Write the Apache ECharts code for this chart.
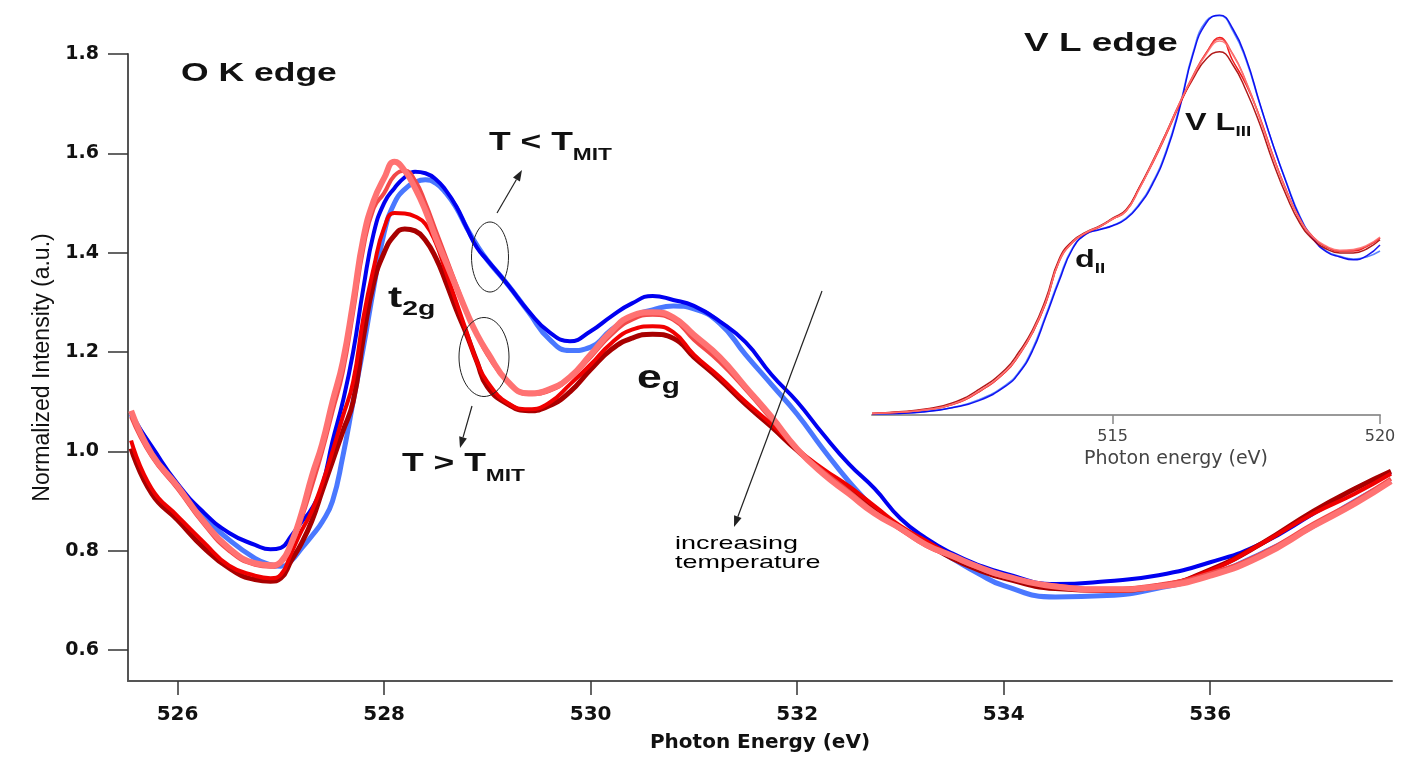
<!DOCTYPE html>
<html>
<head>
<meta charset="utf-8">
<title>O K edge / V L edge</title>
<script src="https://cdn.jsdelivr.net/npm/echarts@6/dist/echarts.min.js"></script>
<style>
  html, body { margin: 0; padding: 0; background: #fff; }
  #chart { width: 1403px; height: 758px; }
</style>
</head>
<body>
<div id="chart"></div>
<script>
// O K edge spectra (main panel)
const OK_ENERGY = [525.55, 525.75, 526.0, 526.25, 526.5, 526.75, 526.9, 527.0, 527.1, 527.2, 527.3, 527.4, 527.5, 527.6, 527.7, 527.8, 527.9, 528.0, 528.1, 528.2, 528.3, 528.4, 528.5, 528.6, 528.7, 528.8, 528.9, 529.0, 529.2, 529.4, 529.6, 529.8, 530.0, 530.2, 530.4, 530.6, 530.8, 531.0, 531.25, 531.5, 531.75, 532.0, 532.25, 532.5, 532.75, 533.0, 533.25, 533.5, 533.75, 534.0, 534.5, 535.0, 535.5, 536.0, 536.5, 537.0, 537.4, 537.75];
const OK_BLUE = [1.072, 1.01, 0.935, 0.878, 0.836, 0.812, 0.803, 0.806, 0.83, 0.858, 0.885, 0.93, 1.02, 1.10, 1.20, 1.33, 1.44, 1.50, 1.53, 1.552, 1.563, 1.56, 1.548, 1.525, 1.493, 1.45, 1.41, 1.385, 1.335, 1.282, 1.240, 1.222, 1.242, 1.272, 1.298, 1.313, 1.305, 1.293, 1.262, 1.22, 1.155, 1.10, 1.035, 0.975, 0.925, 0.865, 0.825, 0.795, 0.772, 0.755, 0.733, 0.739, 0.751, 0.777, 0.815, 0.875, 0.925, 0.958];
const OK_LIGHTBLUE = [1.076, 1.005, 0.93, 0.87, 0.822, 0.785, 0.772, 0.769, 0.78, 0.805, 0.83, 0.858, 0.9, 0.99, 1.10, 1.21, 1.33, 1.44, 1.50, 1.528, 1.542, 1.547, 1.540, 1.52, 1.49, 1.45, 1.415, 1.385, 1.335, 1.28, 1.226, 1.203, 1.21, 1.245, 1.272, 1.285, 1.293, 1.287, 1.258, 1.195, 1.135, 1.075, 1.005, 0.94, 0.885, 0.845, 0.815, 0.785, 0.755, 0.73, 0.707, 0.71, 0.725, 0.752, 0.795, 0.85, 0.90, 0.94];
const OK_SALMON = [1.082, 0.995, 0.93, 0.86, 0.805, 0.775, 0.771, 0.778, 0.815, 0.875, 0.95, 1.015, 1.10, 1.18, 1.30, 1.43, 1.505, 1.55, 1.583, 1.565, 1.53, 1.485, 1.43, 1.38, 1.33, 1.28, 1.235, 1.20, 1.14, 1.117, 1.125, 1.15, 1.195, 1.242, 1.273, 1.28, 1.27, 1.235, 1.19, 1.13, 1.07, 1.005, 0.955, 0.915, 0.875, 0.845, 0.812, 0.79, 0.768, 0.75, 0.728, 0.722, 0.728, 0.75, 0.79, 0.85, 0.895, 0.94];
const OK_PINK = [1.07, 0.99, 0.925, 0.855, 0.80, 0.772, 0.768, 0.775, 0.81, 0.865, 0.93, 1.0, 1.08, 1.16, 1.28, 1.41, 1.49, 1.52, 1.555, 1.565, 1.545, 1.50, 1.445, 1.39, 1.335, 1.28, 1.235, 1.195, 1.14, 1.115, 1.122, 1.148, 1.19, 1.235, 1.265, 1.275, 1.265, 1.225, 1.18, 1.125, 1.065, 1.005, 0.96, 0.92, 0.878, 0.843, 0.81, 0.788, 0.766, 0.748, 0.73, 0.724, 0.732, 0.755, 0.795, 0.855, 0.90, 0.945];
const OK_RED = [1.022, 0.925, 0.87, 0.818, 0.77, 0.75, 0.745, 0.752, 0.795, 0.84, 0.88, 0.935, 1.00, 1.07, 1.14, 1.27, 1.37, 1.45, 1.48, 1.479, 1.473, 1.458, 1.42, 1.36, 1.30, 1.24, 1.18, 1.14, 1.097, 1.085, 1.098, 1.135, 1.175, 1.218, 1.245, 1.252, 1.24, 1.195, 1.15, 1.10, 1.055, 1.005, 0.965, 0.93, 0.89, 0.85, 0.82, 0.79, 0.768, 0.75, 0.728, 0.72, 0.73, 0.76, 0.815, 0.875, 0.915, 0.955];
const OK_DARKRED = [1.006, 0.915, 0.862, 0.807, 0.765, 0.742, 0.739, 0.745, 0.78, 0.815, 0.86, 0.92, 0.98, 1.04, 1.10, 1.23, 1.34, 1.40, 1.435, 1.448, 1.444, 1.425, 1.39, 1.34, 1.285, 1.235, 1.18, 1.13, 1.095, 1.082, 1.092, 1.12, 1.165, 1.205, 1.228, 1.236, 1.228, 1.19, 1.145, 1.095, 1.05, 1.002, 0.96, 0.925, 0.885, 0.845, 0.815, 0.785, 0.762, 0.745, 0.724, 0.72, 0.728, 0.762, 0.815, 0.88, 0.925, 0.96];

// V L edge spectra (inset), arbitrary units
const VL_ENERGY = [510.5, 511.0, 511.5, 512.0, 512.5, 513.0, 513.25, 513.5, 513.75, 514.0, 514.25, 514.5, 514.75, 515.0, 515.25, 515.5, 515.75, 516.0, 516.25, 516.5, 516.75, 517.0, 517.25, 517.5, 517.75, 518.0, 518.25, 518.5, 518.75, 519.0, 519.25, 519.5, 519.75, 520.0];
const VL_BLUE = [0.003, 0.004, 0.008, 0.018, 0.036, 0.072, 0.105, 0.16, 0.245, 0.335, 0.415, 0.452, 0.463, 0.473, 0.49, 0.525, 0.578, 0.655, 0.765, 0.90, 0.98, 1.0, 0.965, 0.89, 0.78, 0.675, 0.58, 0.495, 0.44, 0.408, 0.395, 0.388, 0.398, 0.425];
const VL_LIGHTBLUE = [0.003, 0.004, 0.009, 0.019, 0.038, 0.075, 0.108, 0.165, 0.25, 0.34, 0.418, 0.452, 0.464, 0.474, 0.492, 0.528, 0.582, 0.66, 0.77, 0.905, 0.985, 0.998, 0.96, 0.885, 0.778, 0.675, 0.582, 0.498, 0.442, 0.41, 0.397, 0.39, 0.395, 0.41];
const VL_SALMON = [0.004, 0.007, 0.013, 0.027, 0.06, 0.11, 0.152, 0.207, 0.283, 0.385, 0.432, 0.456, 0.471, 0.49, 0.51, 0.566, 0.632, 0.702, 0.778, 0.845, 0.902, 0.935, 0.9, 0.83, 0.742, 0.645, 0.56, 0.49, 0.445, 0.422, 0.412, 0.414, 0.424, 0.445];
const VL_PINK = [0.004, 0.007, 0.013, 0.026, 0.058, 0.108, 0.15, 0.205, 0.28, 0.383, 0.431, 0.455, 0.47, 0.49, 0.51, 0.566, 0.634, 0.705, 0.78, 0.848, 0.905, 0.94, 0.902, 0.832, 0.744, 0.646, 0.562, 0.488, 0.443, 0.42, 0.41, 0.412, 0.422, 0.443];
const VL_RED = [0.004, 0.007, 0.013, 0.026, 0.058, 0.108, 0.15, 0.205, 0.28, 0.385, 0.432, 0.455, 0.47, 0.49, 0.51, 0.568, 0.63, 0.70, 0.775, 0.845, 0.905, 0.944, 0.885, 0.825, 0.745, 0.648, 0.56, 0.49, 0.445, 0.42, 0.41, 0.41, 0.421, 0.442];
const VL_DARKRED = [0.004, 0.008, 0.015, 0.03, 0.064, 0.115, 0.158, 0.212, 0.29, 0.39, 0.435, 0.457, 0.472, 0.492, 0.513, 0.57, 0.635, 0.705, 0.778, 0.84, 0.89, 0.908, 0.875, 0.81, 0.728, 0.632, 0.548, 0.48, 0.438, 0.415, 0.405, 0.405, 0.415, 0.438];

// tick labels
const Y_TICKS = [0.6, 0.8, 1.0, 1.2, 1.4, 1.6, 1.8];
const X_TICKS = [526, 528, 530, 532, 534, 536];
const VL_TICKS = [515, 520];

const chart = echarts.init(document.getElementById('chart'));

function pairs(xs, ys) {
    return xs.map((x, i) => [x, ys[i]]);
}

// main series, drawn back to front
const okSeries = [
    { data: OK_LIGHTBLUE, color: '#4a78ff', width: 5 },
    { data: OK_BLUE, color: '#0000f0', width: 4 },
    { data: OK_DARKRED, color: '#a80000', width: 5 },
    { data: OK_RED, color: '#f00000', width: 4 },
    { data: OK_PINK, color: '#f24848', width: 4 },
    { data: OK_SALMON, color: '#ff7272', width: 6 }
];
const vlSeries = [
    { data: VL_LIGHTBLUE, color: '#4a78ff' },
    { data: VL_BLUE, color: '#0000f0' },
    { data: VL_DARKRED, color: '#a80000' },
    { data: VL_RED, color: '#f00000' },
    { data: VL_PINK, color: '#f24848' },
    { data: VL_SALMON, color: '#ff7272' }
];

const series = [];
okSeries.forEach(s => {
    series.push({
        type: 'line', xAxisIndex: 0, yAxisIndex: 0,
        data: pairs(OK_ENERGY, s.data),
        showSymbol: false, smooth: 0.5,
        lineStyle: { color: s.color, width: s.width },
        silent: true
    });
});
vlSeries.forEach(s => {
    series.push({
        type: 'line', xAxisIndex: 1, yAxisIndex: 1,
        data: pairs(VL_ENERGY, s.data),
        showSymbol: false, smooth: 0.5,
        lineStyle: { color: s.color, width: 1.5, opacity: 0.9 },
        silent: true
    });
});

// arrow = line + filled head
function arrow(x1, y1, x2, y2) {
    const a = Math.atan2(y2 - y1, x2 - x1);
    const len = 11, half = 4;
    const bx = x2 - len * Math.cos(a), by = y2 - len * Math.sin(a);
    const px = -Math.sin(a) * half, py = Math.cos(a) * half;
    return [
        { type: 'line', z: 100, shape: { x1: x1, y1: y1, x2: bx, y2: by }, style: { stroke: '#222', lineWidth: 1.2 } },
        { type: 'polygon', z: 100, shape: { points: [[x2, y2], [bx + px, by + py], [bx - px, by - py]] }, style: { fill: '#222' } }
    ];
}

const SX = 1.42;   // the figure is stretched horizontally
const FONT = 'Liberation Sans, Arial, sans-serif';
function label(x, y, text, size, rich, scale) {
    return {
        type: 'text', z: 100, x: x, y: y, scaleX: scale || SX,
        style: {
            text: text, fontFamily: FONT, fontSize: size, fontWeight: 'bold',
            fill: '#111', align: 'left', verticalAlign: 'top', rich: rich
        }
    };
}
function sub(main, small, pad) {
    return {
        m: { fontFamily: FONT, fontSize: main, fontWeight: 'bold', lineHeight: main + 4, verticalAlign: 'top', fill: '#111' },
        s: { fontFamily: FONT, fontSize: small, fontWeight: 'bold', lineHeight: small, verticalAlign: 'top', padding: [pad, 0, 0, 0], fill: '#111' }
    };
}

const graphic = [
    label(181, 62, 'O K edge', 25),
    label(1024, 31, 'V L edge', 26),
    label(489, 131, '{m|T < T}{s|MIT}', 25, sub(25, 16, 17)),
    label(402, 452, '{m|T > T}{s|MIT}', 25, sub(25, 16, 17)),
    label(388, 284, '{m|t}{s|2g}', 30, sub(30, 20, 15)),
    label(637, 362, '{m|e}{s|g}', 33, sub(33, 22, 14), 1.35),
    label(1185, 111, '{m|V L}{s|III}', 24, sub(24, 14, 14), 1.35),
    label(1075, 248, '{m|d}{s|II}', 24, sub(24, 14, 14), 1.35),
    {
        type: 'text', z: 100, x: 675, y: 534, scaleX: SX,
        style: {
            text: 'increasing\ntemperature', fontFamily: FONT, fontSize: 19,
            lineHeight: 19, fill: '#000', align: 'left', verticalAlign: 'top'
        }
    },
    { type: 'ellipse', z: 100, shape: { cx: 490, cy: 257, rx: 18.5, ry: 35 }, style: { fill: 'none', stroke: '#222', lineWidth: 1 } },
    { type: 'ellipse', z: 100, shape: { cx: 484, cy: 357, rx: 25, ry: 39.5 }, style: { fill: 'none', stroke: '#222', lineWidth: 1 } }
].concat(arrow(497, 213, 522, 170), arrow(472, 406, 460, 448), arrow(822, 291, 734, 527));

const option = {
    animation: false,
    backgroundColor: '#fff',
    grid: [
        { left: 128, right: 11, top: 54, bottom: 75 },
        { left: 872, right: 23, top: 15, bottom: 343 }
    ],
    xAxis: [
        {
            type: 'value', gridIndex: 0, min: 525.52, max: 537.76,
            name: 'Photon Energy (eV)', nameLocation: 'middle', nameGap: 52,
            nameTextStyle: { fontFamily: 'DejaVu Sans', fontWeight: 'bold', fontSize: 20, color: '#111' },
            axisLine: { lineStyle: { color: '#555', width: 2 } },
            axisTick: { customValues: X_TICKS, length: 14, lineStyle: { color: '#333', width: 1.5 } },
            axisLabel: { customValues: X_TICKS, margin: 24, fontFamily: 'DejaVu Sans', fontWeight: 'bold', fontSize: 20, color: '#111' },
            splitLine: { show: false }
        },
        {
            type: 'value', gridIndex: 1, min: 510.5, max: 520,
            name: 'Photon energy (eV)', nameLocation: 'middle', nameGap: 35,
            nameTextStyle: { fontFamily: 'DejaVu Sans', fontSize: 19, color: '#444', padding: [0, 0, 0, 100] },
            axisLine: { lineStyle: { color: '#999', width: 2 } },
            axisTick: { customValues: VL_TICKS, length: 9, lineStyle: { color: '#888', width: 1.5 } },
            axisLabel: { customValues: VL_TICKS, margin: 14, fontFamily: 'DejaVu Sans', fontSize: 16, color: '#444' },
            splitLine: { show: false }
        }
    ],
    yAxis: [
        {
            type: 'value', gridIndex: 0, min: 0.538, max: 1.8,
            name: 'Normalized Intensity (a.u.)', nameLocation: 'middle', nameGap: 74,
            nameTextStyle: { fontFamily: FONT, fontSize: 23, color: '#111' },
            axisLine: { show: true, lineStyle: { color: '#555', width: 2 } },
            axisTick: { show: true, customValues: Y_TICKS, length: 20, lineStyle: { color: '#333', width: 1.5 } },
            axisLabel: {
                customValues: Y_TICKS, margin: 29, fontFamily: 'DejaVu Sans', fontWeight: 'bold', fontSize: 19, color: '#111',
                formatter: v => v.toFixed(1)
            },
            splitLine: { show: false }
        },
        { type: 'value', gridIndex: 1, min: 0, max: 1.0, show: false }
    ],
    series: series,
    graphic: graphic
};

chart.setOption(option);
</script>
</body>
</html>
